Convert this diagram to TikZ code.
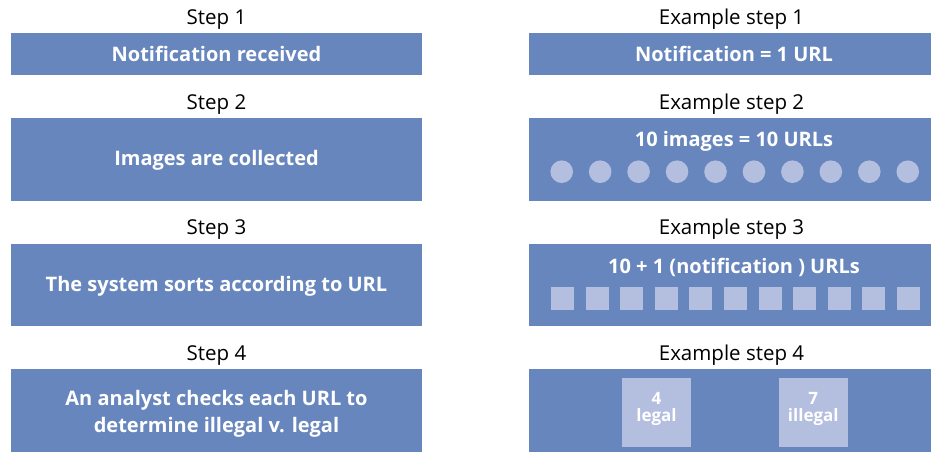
\documentclass[tikz,border=0pt]{standalone}
\usepackage{fontspec}
\setmainfont{Open Sans}
\definecolor{boxblue}{HTML}{6786BD}
\definecolor{lightblue}{HTML}{B4BEDF}
\tikzset{
  steplabel/.style={font=\fontsize{20.5}{24}\selectfont, text=black, anchor=base, inner sep=0pt},
  bluebox/.style={fill=boxblue, draw=none},
  boxtext/.style={font=\fontsize{20}{24}\selectfont\bfseries, text=white, anchor=base, inner sep=0pt},
  dot/.style={circle, fill=lightblue, minimum size=22.6pt, inner sep=0pt, draw=none},
  sq/.style={rectangle, fill=lightblue, minimum width=23pt, minimum height=23.3pt, inner sep=0pt, draw=none},
  bigsq/.style={rectangle, fill=lightblue, minimum width=69pt, minimum height=69pt, inner sep=0pt, draw=none},
  sqtext/.style={font=\fontsize{17}{17}\selectfont\bfseries, text=white, anchor=base, inner sep=0pt}
}
\begin{document}
\begin{tikzpicture}[x=1pt,y=-1pt]
\useasboundingbox (0,0) rectangle (931,452);
% left column
\node[steplabel] (s1) at (216.5,24.3) {Step 1};
\node[steplabel] (s2) at (216.5,109.3) {Step 2};
\node[steplabel] (s3) at (216.5,234) {Step 3};
\node[steplabel] (s4) at (216.5,360.7) {Step 4};
\fill[bluebox] (11,33) rectangle (422,75);
\fill[bluebox] (11,118) rectangle (422,201);
\fill[bluebox] (11,244) rectangle (422,326);
\fill[bluebox] (11,369) rectangle (422,452);
\node[boxtext] (b1) at (216.5,61) {Notification received};
\node[boxtext] (b2) at (216.5,165.5) {Images are collected};
\node[boxtext] (b3) at (216.5,291.5) {The system sorts according to URL};
\node[boxtext] (b4a) at (216.5,405) {An analyst checks each URL to};
\node[boxtext] (b4b) at (216.5,432.7) {determine illegal v. legal};
% right column
\node[steplabel] (e1) at (731.5,24.3) {Example step 1};
\node[steplabel] (e2) at (731.5,109.3) {Example step 2};
\node[steplabel] (e3) at (731.5,234) {Example step 3};
\node[steplabel] (e4) at (731.5,360.7) {Example step 4};
\fill[bluebox] (529,33) rectangle (931,75);
\fill[bluebox] (529,118) rectangle (931,201);
\fill[bluebox] (529,244) rectangle (931,326);
\fill[bluebox] (529,369) rectangle (931,452);
\node[boxtext] (r1) at (734,61) {Notification = 1 URL};
\node[boxtext] (r2) at (734,146.7) {10 images = 10 URLs};
\foreach \i in {0,...,9} {
  \node[dot] (c\i) at ({561.7+38.45*\i},171.7) {};
}
\node[boxtext] (r3) at (734,273.3) {10 + 1 (notification ) URLs};
\foreach \i in {0,...,10} {
  \node[sq] (q\i) at ({562.5+34.6*\i},298.3) {};
}
\node[bigsq] (legal) at (656.5,412.2) {};
\node[bigsq] (illegal) at (813.3,412.2) {};
\node[sqtext] (l4) at (656.5,404) {4};
\node[sqtext] (lt) at (656.5,421) {legal};
\node[sqtext] (i7) at (813.3,404) {7};
\node[sqtext] (it) at (813.3,421) {illegal};
\end{tikzpicture}
\end{document}
